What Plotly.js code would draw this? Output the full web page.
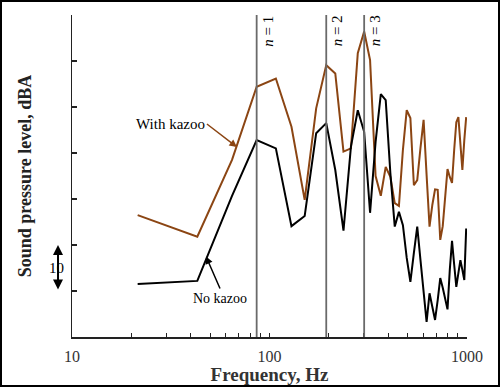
<!DOCTYPE html>
<html>
<head>
<meta charset="utf-8">
<script src="https://cdn.plot.ly/plotly-3.0.1.min.js"></script>
<style>
  html, body { margin: 0; padding: 0; background: #fff; }
  #chart { width: 496px; height: 383px; border: 2px solid #000; }
</style>
</head>
<body>
<div id="chart"></div>
<script>
// Frequency bins (Hz)
const freqHz = [21.5, 43.1, 64.6, 86.1, 107.7, 129.2, 150.7, 172.3, 193.8, 215.3,
  236.9, 258.4, 279.9, 301.5, 323.0, 344.5, 366.1, 387.6, 409.1, 430.7,
  452.2, 473.7, 495.2, 516.8, 538.3, 559.8, 581.4, 602.9, 624.4, 646.0,
  667.5, 689.0, 710.6, 732.1, 753.6, 775.2, 796.7, 818.2, 839.8, 861.3,
  882.8, 904.4, 925.9, 947.4, 969.0, 990.5];

// Sound pressure level (relative dBA)
const withKazoo = [26.5, 21.8, 38.5, 54.4, 56.2, 45.7, 29.8, 49.7, 59.1, 57.3,
  40.3, 41.0, 61.7, 66.4, 60.2, 35.0, 30.7, 37.0, 34.8, 29.1,
  28.5, 40.7, 49.3, 47.6, 33.0, 34.1, 41.1, 47.2, 35.2, 24.0,
  28.7, 32.1, 32.0, 21.1, 24.1, 30.4, 36.5, 34.8, 33.5, 40.7,
  46.7, 47.8, 41.7, 36.3, 42.8, 47.8];

const noKazoo = [11.5, 12.2, 30.7, 42.8, 41.0, 24.1, 26.3, 44.3, 46.5, 36.3,
  23.1, 41.4, 49.3, 44.6, 27.0, 42.4, 52.8, 51.5, 35.7, 24.0,
  27.2, 24.3, 17.2, 12.0, 18.3, 24.0, 16.7, 9.3, 3.3, 9.5,
  6.5, 3.7, 8.0, 12.8, 10.7, 8.5, 6.0, 14.6, 20.9, 15.7,
  10.9, 13.9, 16.7, 14.6, 12.4, 23.6];

// Tube resonance modes
const modeFreqs = [86.1, 193.8, 301.5];
const modeLabels = ['<i>n</i> = 1', '<i>n</i> = 2', '<i>n</i> = 3'];

// Axis ticks
const xTickVals = [10, 20, 30, 40, 50, 60, 70, 80, 90, 100, 200, 300, 400, 500, 600, 700, 800, 900, 1000];
const xTickText = ['10', '', '', '', '', '', '', '', '', '100', '', '', '', '', '', '', '', '', '1000'];
const yTickVals = [0, 10, 20, 30, 40, 50, 60, 70];

const serif = 'Liberation Serif, Times New Roman, serif';

const traces = [
  {
    x: freqHz, y: withKazoo, type: 'scatter', mode: 'lines', name: 'With kazoo',
    line: { color: '#8B4513', width: 2 }
  },
  {
    x: freqHz, y: noKazoo, type: 'scatter', mode: 'lines', name: 'No kazoo',
    line: { color: '#000000', width: 2 }
  }
];

const shapes = modeFreqs.map(f => ({
  type: 'line', xref: 'x', yref: 'paper', x0: f, x1: f, y0: 0, y1: 1,
  line: { color: '#6a6a6a', width: 1.8 }
}));

const annotations = modeFreqs.map((f, i) => ({
  x: Math.log10(f), y: 66.5, xref: 'x', yref: 'y', xshift: 11,
  text: modeLabels[i], showarrow: false, textangle: -90,
  font: { family: serif, size: 15, color: '#000' }
}));

annotations.push({
  x: Math.log10(68.4), y: 41.3, xref: 'x', yref: 'y',
  text: 'With kazoo', showarrow: true, ax: -30, ay: -23,
  xanchor: 'right', yanchor: 'middle',
  arrowhead: 2, arrowsize: 1, arrowwidth: 1.5, arrowcolor: '#8B4513',
  font: { family: serif, size: 15, color: '#000' }
});
annotations.push({
  x: Math.log10(47.7), y: 17.5, xref: 'x', yref: 'y',
  text: 'No kazoo', showarrow: true, ax: 14, ay: 32,
  xanchor: 'center', yanchor: 'top',
  arrowhead: 2, arrowsize: 1, arrowwidth: 1.5, arrowcolor: '#000',
  font: { family: serif, size: 14, color: '#000' }
});
// 10 dB scale bar
annotations.push({
  x: -0.0354, y: 20, xref: 'paper', yref: 'y',
  text: '', showarrow: true, ax: 0, ay: 46,
  arrowhead: 2, startarrowhead: 2, arrowside: 'end+start', arrowsize: 1, arrowwidth: 2, arrowcolor: '#000'
});
annotations.push({
  x: -0.063, y: 15, xref: 'paper', yref: 'y',
  text: '10', showarrow: false,
  font: { family: serif, size: 15, color: '#000' }
});

const layout = {
  width: 496, height: 383,
  margin: { l: 70, r: 31, t: 13, b: 48 },
  paper_bgcolor: '#fff', plot_bgcolor: '#fff',
  showlegend: false,
  xaxis: {
    type: 'log', range: [1, 3],
    tickmode: 'array', tickvals: xTickVals, ticktext: xTickText,
    ticks: 'inside', ticklen: 4, tickwidth: 1, tickcolor: '#222',
    ticklabelstandoff: 4,
    showline: true, linecolor: '#222', linewidth: 1.5,
    showgrid: false, zeroline: false,
    tickfont: { family: serif, size: 16, color: '#333' },
    title: { text: '<b>Frequency, Hz</b>', font: { family: serif, size: 19, color: '#333' }, standoff: 2 }
  },
  yaxis: {
    range: [0, 70],
    tickmode: 'array', tickvals: yTickVals, showticklabels: false,
    ticks: 'inside', ticklen: 5, tickwidth: 1.5, tickcolor: '#222',
    showline: true, linecolor: '#222', linewidth: 1.5,
    showgrid: false, zeroline: false,
    title: { text: '<b>Sound pressure level, dBA</b>', font: { family: serif, size: 18, color: '#222' }, standoff: 34 }
  },
  shapes: shapes,
  annotations: annotations
};

Plotly.newPlot('chart', traces, layout, { staticPlot: true, displayModeBar: false });
</script>
</body>
</html>
